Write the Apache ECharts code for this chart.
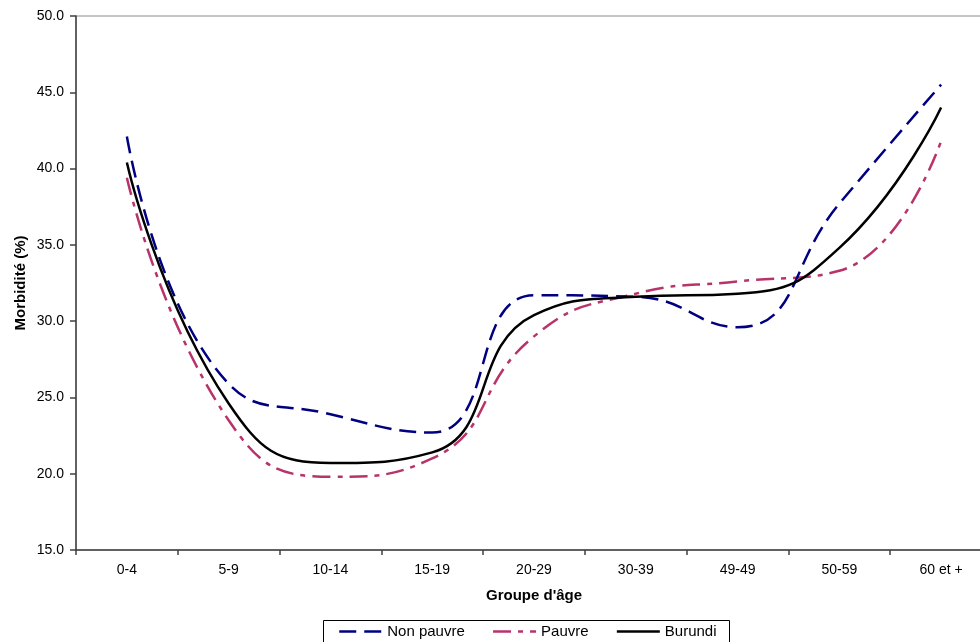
<!DOCTYPE html>
<html>
<head>
<meta charset="utf-8">
<script src="https://cdn.jsdelivr.net/npm/echarts@6/dist/echarts.min.js"></script>
<style>
html,body{margin:0;padding:0;background:#fff;overflow:hidden;width:980px;height:642px;}
#chart{width:1000px;height:642px;}
</style>
</head>
<body>
<div id="chart"></div>
<script>
var categories = ['0-4', '5-9', '10-14', '15-19', '20-29', '30-39', '49-49', '50-59', '60 et +'];
var nonPauvre = [42.1, 25.9, 23.9, 22.7, 31.7, 31.6, 29.6, 37.7, 45.5];
var pauvre = [39.4, 23.5, 19.8, 21.0, 29.0, 31.8, 32.6, 33.3, 41.8];
var burundi = [40.4, 24.6, 20.7, 21.4, 30.4, 31.6, 31.8, 34.8, 44.0];
var seriesNames = ['Non pauvre', 'Pauvre', 'Burundi'];
var yTicks = { min: 15, max: 50, interval: 5 };

var FONT = '"Liberation Sans", Arial, sans-serif';
var chart = echarts.init(document.getElementById('chart'), null, { renderer: 'canvas' });

var option = {
  backgroundColor: '#ffffff',
  animation: false,
  textStyle: { fontFamily: FONT },
  grid: {
    left: 76, top: 16, width: 916, height: 534,
    show: true, borderColor: '#8c8c8c', borderWidth: 1, backgroundColor: 'transparent',
    containLabel: false
  },
  legend: {
    left: 338, top: 624, padding: 0,
    itemWidth: 43, itemHeight: 14, itemGap: 27,
    itemStyle: { opacity: 0 },
    lineStyle: { width: 2.5 },
    textStyle: { fontFamily: FONT, fontSize: 15, color: '#000' },
    data: seriesNames
  },
  graphic: [{
    type: 'rect',
    shape: { x: 323.5, y: 620.5, width: 406, height: 40 },
    style: { fill: 'none', stroke: '#000', lineWidth: 1 },
    z: 10, silent: true
  }],
  xAxis: {
    type: 'category',
    data: categories,
    boundaryGap: true,
    name: "Groupe d'âge",
    nameLocation: 'middle',
    nameGap: 38,
    nameTextStyle: { fontFamily: FONT, fontSize: 15, fontWeight: 'bold', color: '#000' },
    axisLine: { show: true, lineStyle: { color: '#404040', width: 1.5 } },
    axisTick: { show: true, length: 5, lineStyle: { color: '#404040', width: 1.5 } },
    axisLabel: { fontFamily: FONT, fontSize: 14, color: '#000', margin: 13, interval: 0 },
    splitLine: { show: false }
  },
  yAxis: {
    type: 'value',
    min: yTicks.min, max: yTicks.max, interval: yTicks.interval,
    name: 'Morbidité (%)',
    nameLocation: 'middle',
    nameGap: 48,
    nameMoveOverlap: false,
    nameRotate: 90,
    nameTextStyle: { fontFamily: FONT, fontSize: 15, fontWeight: 'bold', color: '#000' },
    axisLine: { show: true, lineStyle: { color: '#404040', width: 1.5 } },
    axisTick: { show: true, length: 6, lineStyle: { color: '#404040', width: 1.5 } },
    axisLabel: {
      fontFamily: FONT, fontSize: 14, color: '#000', margin: 12,
      formatter: function (v) { return v.toFixed(1); }
    },
    splitLine: { show: false }
  },
  series: [
    {
      name: seriesNames[0], type: 'line', data: nonPauvre, smooth: 0.5,
      symbol: 'none', showSymbol: false,
      itemStyle: { color: '#000080' },
      lineStyle: { color: '#000080', width: 2.5, type: [17, 8] },
      z: 3
    },
    {
      name: seriesNames[1], type: 'line', data: pauvre, smooth: 0.5,
      symbol: 'none', showSymbol: false,
      itemStyle: { color: '#B8336A' },
      lineStyle: { color: '#B8336A', width: 2.5, type: [18, 7, 5, 7] },
      z: 2
    },
    {
      name: seriesNames[2], type: 'line', data: burundi, smooth: 0.5,
      symbol: 'none', showSymbol: false,
      itemStyle: { color: '#000000' },
      lineStyle: { color: '#000000', width: 2.5, type: 'solid' },
      z: 4
    }
  ]
};
chart.setOption(option);
</script>
</body>
</html>
